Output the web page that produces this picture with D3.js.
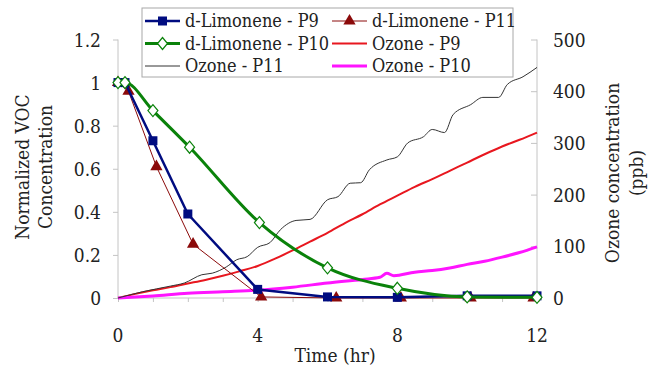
<!DOCTYPE html>
<html>
<head>
<meta charset="utf-8">
<script src="https://cdn.jsdelivr.net/npm/d3@7"></script>
<style>
  body { margin: 0; background: #fff; }
  svg text { fill: #222; }
</style>
</head>
<body>
<div id="chart"></div>
<script>
// d-Limonene (normalized), sampled times differ a little per run
const timeP9 = [0, 0.2, 1, 2, 4, 6, 8, 10, 12];
const limP9 = [1, 1, 0.73, 0.39, 0.04, 0.005, 0.003, 0.01, 0.01];
const timeP10 = [0, 0.2, 1, 2.05, 4.05, 6, 8, 10, 12];
const limP10 = [1, 1, 0.87, 0.70, 0.35, 0.14, 0.045, 0.005, 0.003];
const timeP11 = [0, 0.3, 1.1, 2.15, 4.1, 6.25, 8.1, 10.1, 11.9];
const limP11 = [1, 0.96, 0.61, 0.25, 0.005, 0, 0, 0, 0];

// ozone (ppb)
const ozTimeP9 = [0, 0.5, 1, 1.5, 2, 2.5, 3, 3.5, 4, 4.5, 5, 5.5, 6, 6.5, 7, 7.5, 8, 8.5, 9, 9.5, 10, 10.5, 11, 11.5, 12];
const ozoneP9 = [0, 8, 15, 21, 28, 35, 43, 52, 62, 76, 92, 109, 126, 145, 162, 181, 198, 215, 230, 246, 262, 278, 293, 306, 320];
const ozTimeP10 = [0, 1, 2, 3, 4, 5, 6, 7, 7.5, 7.7, 7.9, 8.5, 9, 9.5, 10, 10.5, 11, 11.5, 12];
const ozoneP10 = [0, 4, 9, 12, 15, 21, 29, 36, 40, 48, 43, 50, 53, 58, 65, 71, 79, 88, 99];
const ozTimeP11 = [0, 0.7, 1.5, 1.9, 2.4, 2.7, 3.1, 3.4, 3.7, 4.0, 4.35, 4.65, 5.1, 5.5, 6.0, 6.3, 6.65, 6.95, 7.2, 7.7, 8.0, 8.3, 8.75, 9.0, 9.35, 9.6, 10.1, 10.45, 10.9, 11.15, 11.6, 12];
const ozoneP11 = [0, 12, 23, 29, 45, 48, 60, 74, 80, 98, 107, 132, 150, 152, 190, 196, 222, 223, 248, 267, 273, 300, 312, 326, 320, 355, 374, 388, 388, 413, 428, 446];

const xTicks = [0, 4, 8, 12];
const yLeftTicks = [0, 0.2, 0.4, 0.6, 0.8, 1, 1.2];
const yRightTicks = [0, 100, 200, 300, 400, 500];

const width = 663, height = 370;
const plotLeft = 118, plotRight = 537, plotTop = 39.5, plotBottom = 298;
const serif = "'DejaVu Serif Condensed', 'DejaVu Serif', serif";

const svg = d3.select("#chart").append("svg")
    .attr("width", width)
    .attr("height", height)
    .style("font-family", serif)
    .style("font-stretch", "condensed");

const x = d3.scaleLinear().domain([0, 12]).range([plotLeft, plotRight]);
const yL = d3.scaleLinear().domain([0, 1.2]).range([plotBottom, plotTop]);
const yR = d3.scaleLinear().domain([0, 500]).range([plotBottom, plotTop]);

const axisColor = "#c4c4c4";

// axes
const xAxis = svg.append("g").attr("transform", `translate(0,${plotBottom})`)
    .call(d3.axisBottom(x).tickValues(d3.range(0, 13)).tickSize(4).tickFormat(""));
const yAxisL = svg.append("g").attr("transform", `translate(${plotLeft},0)`)
    .call(d3.axisLeft(yL).tickValues(yLeftTicks).tickSize(5).tickFormat(""));
const yAxisR = svg.append("g").attr("transform", `translate(${plotRight},0)`)
    .call(d3.axisLeft(yR).tickValues(yRightTicks).tickSize(6).tickFormat(""));
[xAxis, yAxisL, yAxisR].forEach(g => {
  g.select(".domain").attr("stroke", axisColor);
  g.selectAll(".tick line").attr("stroke", axisColor);
});
xAxis.select(".domain").attr("d", `M${plotLeft},0H${plotRight}`);
yAxisL.select(".domain").attr("d", `M0,${plotBottom}V${plotTop}`);
yAxisR.select(".domain").attr("d", `M0,${plotBottom}V${plotTop}`);

const tickSize = "19px";
svg.selectAll(".xlab").data(xTicks).enter().append("text")
    .attr("x", d => x(d)).attr("y", 342)
    .attr("text-anchor", "middle").style("font-size", tickSize)
    .text(d => d);
svg.selectAll(".ylab").data(yLeftTicks).enter().append("text")
    .attr("x", 101).attr("y", d => yL(d) + 7)
    .attr("text-anchor", "end").style("font-size", tickSize)
    .text(d => d3.format("~g")(d));
svg.selectAll(".rlab").data(yRightTicks).enter().append("text")
    .attr("x", 553).attr("y", d => yR(d) + 7)
    .style("font-size", tickSize)
    .text(d => d);

svg.append("text").attr("x", 335).attr("y", 362)
    .attr("text-anchor", "middle").style("font-size", "19px")
    .text("Time (hr)");
const lt = svg.append("text").attr("transform", "translate(22,167) rotate(-90)")
    .attr("text-anchor", "middle").style("font-size", "19px");
lt.append("tspan").attr("x", 0).attr("dy", "0.35em").text("Normalized VOC");
lt.append("tspan").attr("x", 0).attr("dy", "1.25em").text("Concentration");
const rt = svg.append("text").attr("transform", "translate(612,173) rotate(-90)")
    .attr("text-anchor", "middle").style("font-size", "19px");
rt.append("tspan").attr("x", 0).attr("dy", "0.35em").text("Ozone concentration");
rt.append("tspan").attr("x", 0).attr("dy", "1.3em").text("(ppb)");

// ozone lines
const zip = (t, v) => t.map((d, i) => [d, v[i]]);
const ozLine = d3.line().x(d => x(d[0])).y(d => yR(d[1])).curve(d3.curveMonotoneX);
const ozone = [
  { name: "Ozone - P9", data: zip(ozTimeP9, ozoneP9), color: "#e8171f", w: 2 },
  { name: "Ozone - P10", data: zip(ozTimeP10, ozoneP10), color: "#ff14ff", w: 3 },
  { name: "Ozone - P11", data: zip(ozTimeP11, ozoneP11), color: "#333", w: 1 }
];
ozone.forEach(s => {
  svg.append("path").datum(s.data)
      .attr("fill", "none").attr("stroke", s.color).attr("stroke-width", s.w)
      .attr("stroke-linejoin", "round")
      .attr("d", ozLine);
});

// limonene lines + markers
const vocLine = d3.line().x(d => x(d[0])).y(d => yL(d[1]));
const vocSmooth = d3.line().x(d => x(d[0])).y(d => yL(d[1])).curve(d3.curveMonotoneX);
const voc = [
  { name: "d-Limonene - P11", data: zip(timeP11, limP11), color: "#8b0a0a", w: 1, marker: "tri" },
  { name: "d-Limonene - P9", data: zip(timeP9, limP9), color: "#000c80", w: 2.5, marker: "sq" },
  { name: "d-Limonene - P10", data: zip(timeP10, limP10), color: "#0a820a", w: 3, marker: "dia" }
];

function drawMarker(g, type, cx, cy) {
  if (type === "sq") {
    g.append("rect").attr("x", cx - 4.5).attr("y", cy - 4.5).attr("width", 9).attr("height", 9)
        .attr("fill", "#000c80");
  } else if (type === "tri") {
    g.append("path").attr("d", d3.symbol(d3.symbolTriangle, 65)()).attr("transform", `translate(${cx},${cy})`)
        .attr("fill", "#8b0a0a");
  } else {
    g.append("path").attr("d", `M${cx},${cy - 6}L${cx + 5},${cy}L${cx},${cy + 6}L${cx - 5},${cy}Z`)
        .attr("fill", "#fff").attr("stroke", "#0a820a").attr("stroke-width", 1.2);
  }
}

voc.forEach(s => {
  svg.append("path").datum(s.data)
      .attr("fill", "none").attr("stroke", s.color).attr("stroke-width", s.w)
      .attr("stroke-linejoin", "round")
      .attr("d", s.marker === "dia" ? vocSmooth : vocLine);
  const g = svg.append("g");
  s.data.forEach(d => drawMarker(g, s.marker, x(d[0]), yL(d[1])));
});

// legend
const legend = svg.append("g");
legend.append("rect").attr("x", 142).attr("y", 8).attr("width", 371).attr("height", 69)
    .attr("fill", "#fff").attr("stroke", "#a8a8a8");
const legendItems = [
  { name: "d-Limonene - P9", color: "#000c80", w: 2.5, marker: "sq", col: 0, row: 0 },
  { name: "d-Limonene - P11", color: "#8b0a0a", w: 1, marker: "tri", col: 1, row: 0 },
  { name: "d-Limonene - P10", color: "#0a820a", w: 3, marker: "dia", col: 0, row: 1 },
  { name: "Ozone - P9", color: "#e8171f", w: 2, marker: null, col: 1, row: 1 },
  { name: "Ozone - P11", color: "#333", w: 1, marker: null, col: 0, row: 2 },
  { name: "Ozone - P10", color: "#ff14ff", w: 3, marker: null, col: 1, row: 2 }
];
legendItems.forEach(d => {
  const x0 = d.col === 0 ? 145 : 332;
  const yy = 21 + d.row * 22.5;
  legend.append("line").attr("x1", x0).attr("x2", x0 + 35).attr("y1", yy).attr("y2", yy)
      .attr("stroke", d.color).attr("stroke-width", d.w);
  if (d.marker) drawMarker(legend, d.marker, x0 + 17.5, yy);
  legend.append("text").attr("x", x0 + 40).attr("y", yy + 6)
      .style("font-size", "18px").text(d.name);
});
</script>
</body>
</html>
